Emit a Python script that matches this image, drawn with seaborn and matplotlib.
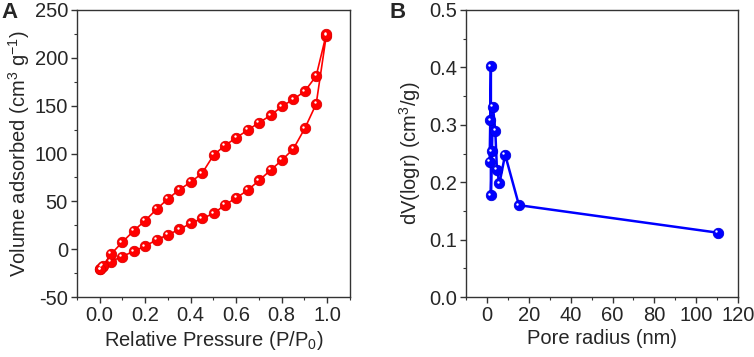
import pandas as pd
import matplotlib
matplotlib.use("Agg")
import matplotlib.pyplot as plt
import matplotlib.transforms as mtransforms
from matplotlib.ticker import MultipleLocator
import seaborn as sns

# ---------------------------------------------------------------
# Data
# ---------------------------------------------------------------
# N2 isotherm: adsorption branch (low -> high P/P0) then desorption back
ads_pressure = [0.003, 0.010, 0.050, 0.098, 0.151, 0.199, 0.251, 0.299, 0.350,
                0.400, 0.450, 0.501, 0.550, 0.601, 0.652, 0.701, 0.752, 0.802,
                0.852, 0.902, 0.952, 0.996]
ads_volume = [-20.9, -18.5, -12.9, -7.7, -2.1, 3.1, 9.8, 15.0, 20.6,
              26.9, 32.1, 37.3, 46.1, 53.7, 61.8, 71.9, 82.7, 93.2,
              105.0, 126.3, 151.8, 222.7]
des_pressure = [0.996, 0.952, 0.902, 0.852, 0.802, 0.752, 0.701, 0.652, 0.601,
                0.550, 0.501, 0.450, 0.400, 0.350, 0.299, 0.251, 0.199, 0.151,
                0.098, 0.050, 0.015, 0.003]
des_volume = [224.4, 181.1, 165.1, 156.7, 149.4, 139.9, 132.3, 124.6, 116.6,
              108.2, 98.4, 79.2, 70.1, 62.1, 52.4, 41.9, 29.7, 19.5,
              7.0, -5.2, -17.1, -20.9]

# BJH pore size distribution
pore_radius = [1.3, 1.6, 1.9, 1.9, 2.4, 2.9, 4.0, 4.8, 6.0, 8.7, 15.3, 110.4]
pore_dv = [0.236, 0.308, 0.402, 0.177, 0.254, 0.331, 0.290, 0.221, 0.198,
           0.248, 0.160, 0.112]

sns.set_style("ticks")
plt.rcParams["font.family"] = ["Liberation Sans", "DejaVu Sans"]
plt.rcParams["axes.unicode_minus"] = False
plt.rcParams["mathtext.fontset"] = "custom"
plt.rcParams["mathtext.rm"] = "Liberation Sans"
plt.rcParams["mathtext.it"] = "Liberation Sans:italic"
plt.rcParams["xtick.direction"] = "out"
plt.rcParams["ytick.direction"] = "out"

iso = pd.DataFrame({
    "p": ads_pressure + des_pressure,
    "v": ads_volume + des_volume,
})
psd = pd.DataFrame({"r": pore_radius, "dv": pore_dv})

fig = plt.figure(figsize=(7.54, 3.57), dpi=100)
ax1 = fig.add_axes([0.102, 0.168, 0.362, 0.804])
ax2 = fig.add_axes([0.618, 0.168, 0.361, 0.804])


def add_shine(ax, x, y):
    # small white highlight to mimic the glossy sphere markers
    off = mtransforms.offset_copy(ax.transData, fig=fig, x=-1.2, y=1.2, units="points")
    ax.scatter(x, y, s=3, color="white", zorder=5, transform=off, linewidths=0)


# ---- panel A ---------------------------------------------------
sns.lineplot(data=iso, x="p", y="v", sort=False, estimator=None, ax=ax1,
             color="#ff0000", lw=1.2, marker="o", markersize=7.5,
             markeredgecolor="#e00000", markeredgewidth=0.6)
add_shine(ax1, iso["p"], iso["v"])
ax1.set_xlim(-0.1, 1.1)
ax1.set_ylim(-50, 250)
ax1.xaxis.set_major_locator(MultipleLocator(0.2))
ax1.xaxis.set_minor_locator(MultipleLocator(0.1))
ax1.yaxis.set_major_locator(MultipleLocator(50))
ax1.yaxis.set_minor_locator(MultipleLocator(25))
ax1.set_xlabel("Relative Pressure (P/P$_0$)", labelpad=3)
ax1.set_ylabel("Volume adsorbed (cm$^3$ g$^{-1}$)", labelpad=2)

# ---- panel B ---------------------------------------------------
sns.lineplot(data=psd, x="r", y="dv", sort=False, estimator=None, ax=ax2,
             color="#0000ff", lw=1.8, marker="o", markersize=7.5,
             markeredgecolor="#0000e0", markeredgewidth=0.6)
add_shine(ax2, psd["r"], psd["dv"])
ax2.set_xlim(-10, 120)
ax2.set_ylim(0, 0.5)
ax2.xaxis.set_major_locator(MultipleLocator(20))
ax2.xaxis.set_minor_locator(MultipleLocator(10))
ax2.yaxis.set_major_locator(MultipleLocator(0.1))
ax2.yaxis.set_minor_locator(MultipleLocator(0.05))
ax2.set_xlabel("Pore radius (nm)", labelpad=3)
ax2.set_ylabel("dV(logr) (cm$^3$/g)", labelpad=4)

for ax in (ax1, ax2):
    for s in ax.spines.values():
        s.set_linewidth(1.0)
        s.set_color("#333333")
    ax.tick_params(which="major", length=4.5, width=1, labelsize=14.5,
                   color="#333333", pad=2)
    ax.tick_params(which="minor", length=2.5, width=0.8, color="#333333")
    ax.xaxis.label.set_size(14.5)
    ax.yaxis.label.set_size(14.5)

fig.text(0.002, 0.993, "A", fontsize=16, fontweight="bold", va="top", ha="left")
fig.text(0.517, 0.993, "B", fontsize=16, fontweight="bold", va="top", ha="left")

fig.savefig("out.png", dpi=100)
